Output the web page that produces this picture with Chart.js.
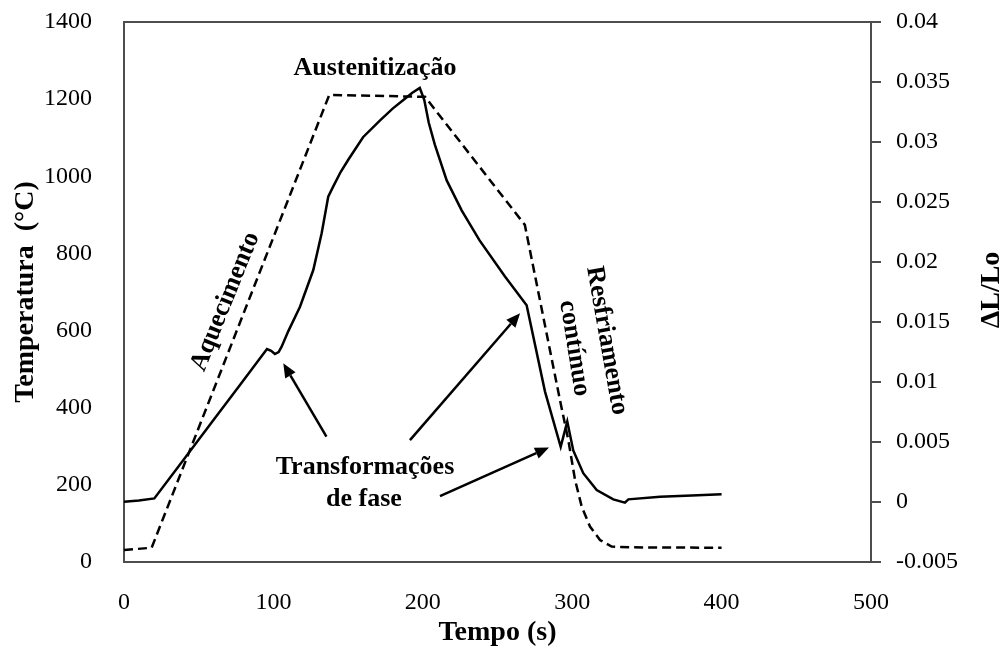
<!DOCTYPE html>
<html lang="pt">
<head>
<meta charset="UTF-8">
<title>Dilatometria - Temperatura e ΔL/Lo</title>
<script src="https://cdn.jsdelivr.net/npm/chart.js"></script>
<style>
  html, body { margin: 0; padding: 0; background: #fff; }
  #wrap { width: 1006px; height: 652px; }
</style>
</head>
<body>
<div id="wrap"><canvas id="grafico" width="1006" height="652"></canvas></div>
<script>
// Ciclo térmico (eixo esquerdo, linha tracejada)
const tempoTemp = [0, 18.5, 137.4, 201.5, 268.3, 291.8, 297.4, 301.9, 306.4, 311.9, 318.6, 326.4, 340, 400];
const temperatura = [31, 37, 1211, 1206, 874, 420, 316, 213, 143, 92, 57, 40, 38, 37];

// Dilatação ΔL/Lo (eixo direito, linha contínua)
const tempoDil = [0, 10, 20.3, 40, 58, 78, 95.7, 98.5, 101, 103.5, 105.5, 110, 117.8, 126.7, 132.3, 136.7,
  140, 145, 150, 160, 171.4, 180, 187, 193, 198, 201, 204, 208, 216, 226, 238, 255, 269.5,
  281.8, 292.3, 296.7, 300.7, 307.4, 316.4, 327.5, 335.3, 337.6, 358.8, 380, 400];
const dilatacao = [0.00003, 0.00012, 0.0003, 0.00355, 0.00652, 0.00982, 0.01275, 0.0126, 0.01233, 0.0125, 0.01294,
  0.01424, 0.01627, 0.01933, 0.02239, 0.02544, 0.02628, 0.0275, 0.0285, 0.0304, 0.0318, 0.0328, 0.0335,
  0.0341, 0.0345, 0.0335, 0.0316, 0.0298, 0.0268, 0.0243, 0.0218, 0.0188, 0.0164, 0.0092, 0.0046,
  0.0067, 0.0043, 0.0024, 0.0010, 0.00022, -0.00006, 0.00022, 0.00044, 0.00054, 0.00064];

// Marcas dos eixos
const ticksTempo = [0, 100, 200, 300, 400, 500];
const ticksTemp = [0, 200, 400, 600, 800, 1000, 1200, 1400];
const ticksDil = [-0.005, 0, 0.005, 0.01, 0.015, 0.02, 0.025, 0.03, 0.035, 0.04];

const FONTE = "'Liberation Serif', 'Times New Roman', serif";
const COR_EIXO = '#4d4d4d';

// Textos e setas da figura (posicionados em unidades de tempo / temperatura)
const notas = [
  { texto: 'Austenitização', t: 168, v: 1281, ang: 0 },
  { texto: 'Aquecimento', t: 67.8, v: 675, ang: -68 },
  { texto: 'Resfriamento', t: 323.1, v: 574, ang: 80 },
  { texto: 'contínuo', t: 301.4, v: 554, ang: 81 },
  { texto: 'Transformações', t: 161.3, v: 246, ang: 0 },
  { texto: 'de fase', t: 160.6, v: 163, ang: 0 }
];
const setas = [
  { de: [135.5, 325], ate: [106.6, 515] },
  { de: [191.4, 316], ate: [265.1, 645] },
  { de: [211.5, 171], ate: [284.5, 297] }
];

const anotacoes = {
  id: 'anotacoes',
  afterDraw(chart) {
    const { ctx, chartArea: a, scales: { x, y } } = chart;
    const px = t => x.getPixelForValue(t);
    const py = v => y.getPixelForValue(v);
    ctx.save();

    // borda superior da área do gráfico
    ctx.strokeStyle = COR_EIXO;
    ctx.lineWidth = 2;
    ctx.beginPath();
    ctx.moveTo(a.left - 1, a.top);
    ctx.lineTo(a.right + 1, a.top);
    ctx.stroke();

    ctx.fillStyle = '#000';
    ctx.textAlign = 'center';
    ctx.textBaseline = 'middle';
    ctx.font = 'bold 26px ' + FONTE;
    notas.forEach(n => {
      ctx.save();
      ctx.translate(px(n.t), py(n.v));
      ctx.rotate(n.ang * Math.PI / 180);
      ctx.fillText(n.texto, 0, 0);
      ctx.restore();
    });

    // setas
    ctx.strokeStyle = '#000';
    ctx.lineWidth = 2.5;
    setas.forEach(s => {
      const x1 = px(s.de[0]), y1 = py(s.de[1]);
      const x2 = px(s.ate[0]), y2 = py(s.ate[1]);
      const ang = Math.atan2(y2 - y1, x2 - x1);
      const comp = 14, larg = 6;
      const bx = x2 - comp * Math.cos(ang), by = y2 - comp * Math.sin(ang);
      ctx.beginPath();
      ctx.moveTo(x1, y1);
      ctx.lineTo(bx, by);
      ctx.stroke();
      ctx.beginPath();
      ctx.moveTo(x2, y2);
      ctx.lineTo(bx + larg * Math.sin(ang), by - larg * Math.cos(ang));
      ctx.lineTo(bx - larg * Math.sin(ang), by + larg * Math.cos(ang));
      ctx.closePath();
      ctx.fill();
    });

    // título do eixo direito (lido de baixo para cima)
    ctx.save();
    ctx.translate(chart.width - 14, (a.top + a.bottom) / 2 - 2);
    ctx.rotate(-Math.PI / 2);
    ctx.font = 'bold 28px ' + FONTE;
    ctx.fillText('ΔL/Lo', 0, 0);
    ctx.restore();

    ctx.restore();
  }
};

const pontos = (xs, ys) => xs.map((t, i) => ({ x: t, y: ys[i] }));
const marcas = lista => scale => { scale.ticks = lista.map(v => ({ value: v })); };
const rotulo = v => String(parseFloat(Number(v).toFixed(3)));
// largura fixa do eixo vertical, sem a folga extra que o Chart.js reserva para o rótulo do topo
const larguraFixa = w => s => { s.width = w; s.paddingTop = 0; s.paddingBottom = 0; };

Chart.defaults.font.family = FONTE;
Chart.defaults.color = '#000';

new Chart(document.getElementById('grafico'), {
  type: 'line',
  data: {
    datasets: [
      {
        label: 'Temperatura',
        data: pontos(tempoTemp, temperatura),
        yAxisID: 'y',
        borderColor: '#000',
        borderWidth: 2.5,
        borderDash: [9, 5],
        pointRadius: 0,
        tension: 0,
        fill: false
      },
      {
        label: 'ΔL/Lo',
        data: pontos(tempoDil, dilatacao),
        yAxisID: 'y2',
        borderColor: '#000',
        borderWidth: 2.5,
        pointRadius: 0,
        tension: 0,
        fill: false
      }
    ]
  },
  options: {
    responsive: false,
    animation: false,
    layout: { padding: { top: 22, left: 0, right: 0, bottom: 0 } },
    plugins: { legend: { display: false }, tooltip: { enabled: false } },
    scales: {
      x: {
        type: 'linear',
        min: 0,
        max: 500,
        afterBuildTicks: marcas(ticksTempo),
        afterFit: s => { s.height = 90; },
        grid: { display: false },
        border: { display: true, color: COR_EIXO, width: 2 },
        ticks: { font: { size: 24 }, padding: 18, maxRotation: 0, callback: rotulo },
        title: { display: true, text: 'Tempo (s)', font: { size: 28, weight: 'bold' }, padding: { top: 0, bottom: 2 } }
      },
      y: {
        position: 'left',
        min: 0,
        max: 1400,
        afterBuildTicks: marcas(ticksTemp),
        afterFit: larguraFixa(124),
        grid: { display: false },
        border: { display: true, color: COR_EIXO, width: 2 },
        ticks: { font: { size: 24 }, padding: 24, callback: rotulo },
        title: { display: true, text: 'Temperatura  (°C)', font: { size: 28, weight: 'bold' }, padding: { top: 9, bottom: 0 } }
      },
      y2: {
        position: 'right',
        min: -0.005,
        max: 0.04,
        afterBuildTicks: marcas(ticksDil),
        afterFit: larguraFixa(135),
        grid: { display: true, drawOnChartArea: false, drawTicks: true, tickLength: 10, color: COR_EIXO, lineWidth: 2 },
        border: { display: true, color: COR_EIXO, width: 2 },
        ticks: { font: { size: 24 }, padding: 15, callback: rotulo }
      }
    }
  },
  plugins: [anotacoes]
});
</script>
</body>
</html>
